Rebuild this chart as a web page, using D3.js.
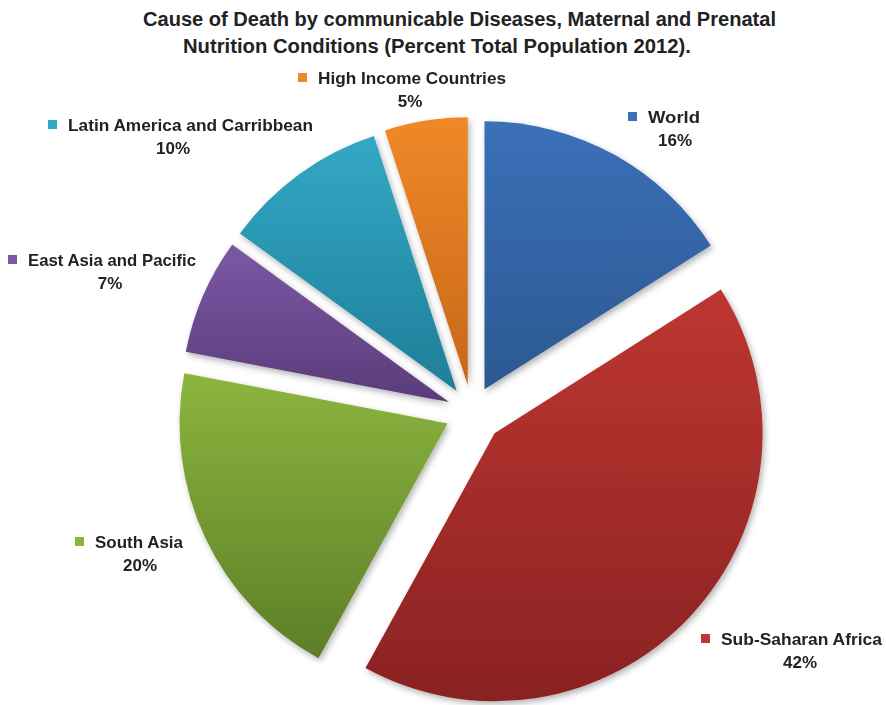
<!DOCTYPE html>
<html>
<head>
<meta charset="utf-8">
<script src="https://cdn.jsdelivr.net/npm/d3@7"></script>
<style>
  html, body { margin: 0; padding: 0; background: #fff; }
  svg { display: block; }
  text { font-family: "Liberation Sans Narrow", "Liberation Sans", Arial, sans-serif; font-weight: bold; fill: #222; }
</style>
</head>
<body>
<svg id="chart" width="886" height="705"></svg>
<script>
// ---- data ----
const categories = ["World", "Sub-Saharan Africa", "South Asia", "East Asia and Pacific", "Latin America and Carribbean", "High Income Countries"];
const values = [16, 42, 20, 7, 10, 5];
const titleLines = ["Cause of Death by communicable Diseases, Maternal and Prenatal", "Nutrition Conditions (Percent Total Population 2012)."];

// ---- styles / layout ----
const topColors = ["#3b70b9", "#be3631", "#8cb53e", "#7b58a4", "#33a8c6", "#f08828"];
const botColors = ["#2c5891", "#8a2222", "#5c7e28", "#5a3c7a", "#1f7e98", "#c76719"];
const labelPos = [ // [squareX, baselineY, textWidth, pctCenterX]
  [628, 123, 52, 675],
  [701, 645, 161, 800],
  [75, 548, 88, 140],
  [8, 266, 168, 110],
  [48, 131, 245, 173],
  [298, 84, 188, 410]
];
const explode = [26, 31, 27, 25, 26, 27];
const cx = 472, cy = 412, R = 268;

const svg = d3.select("#chart");
const defs = svg.append("defs");

const filt = defs.append("filter").attr("id", "shadow").attr("x", "-20%").attr("y", "-20%").attr("width", "140%").attr("height", "140%");
filt.append("feDropShadow").attr("dx", 2).attr("dy", 3).attr("stdDeviation", 3).attr("flood-color", "#000").attr("flood-opacity", 0.3);

categories.forEach((c, i) => {
  const g = defs.append("linearGradient").attr("id", "grad" + i)
    .attr("x1", 0).attr("y1", 0).attr("x2", 0).attr("y2", 1);
  g.append("stop").attr("offset", "0%").attr("stop-color", topColors[i]);
  g.append("stop").attr("offset", "100%").attr("stop-color", botColors[i]);
});

// title
svg.append("g").selectAll("text").data(titleLines).join("text")
  .attr("x", (d, i) => i === 0 ? 143 : 183)
  .attr("y", (d, i) => i === 0 ? 26 : 53)
  .attr("textLength", (d, i) => i === 0 ? 633 : 508)
  .attr("lengthAdjust", "spacingAndGlyphs")
  .style("font-size", "20px")
  .text(d => d);

const pie = d3.pie().sort(null).value(d => d)(values);
const arc = d3.arc().innerRadius(0).outerRadius(R);

const slices = svg.append("g").attr("transform", `translate(${cx},${cy})`).attr("filter", "url(#shadow)");
slices.selectAll("path").data(pie).join("path")
  .attr("transform", (d, i) => {
    const a = (d.startAngle + d.endAngle) / 2;
    return `translate(${explode[i] * Math.sin(a)},${-explode[i] * Math.cos(a)})`;
  })
  .attr("d", arc)
  .attr("fill", (d, i) => `url(#grad${i})`);

// labels
const lg = svg.append("g");
pie.forEach((d, i) => {
  const [sx, by, tw, pc] = labelPos[i];
  lg.append("rect").attr("x", sx).attr("y", by - 11).attr("width", 9).attr("height", 9).attr("fill", topColors[i]);
  lg.append("text").attr("x", sx + 20).attr("y", by)
    .attr("textLength", tw).attr("lengthAdjust", "spacingAndGlyphs")
    .style("font-size", "17px").text(categories[i]);
  lg.append("text").attr("x", pc).attr("y", by + 23).attr("text-anchor", "middle")
    .style("font-size", "17px").text(Math.round(d.value) + "%");
});
</script>
</body>
</html>
